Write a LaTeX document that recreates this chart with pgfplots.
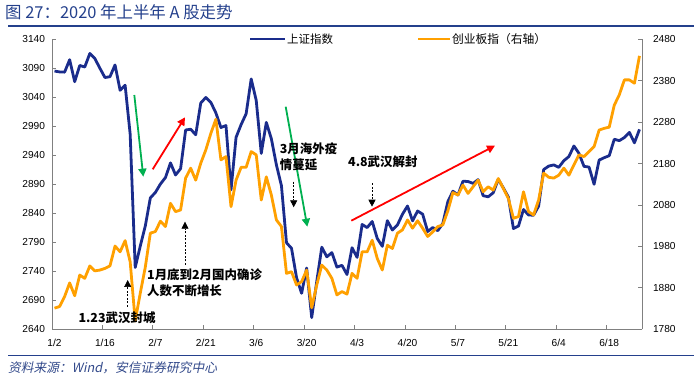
\documentclass[border=0pt]{standalone}
\usepackage{pgfplots}
\usepackage{pgfplotstable}
\pgfplotsset{compat=1.18}
\usepackage{fontspec}
\setmainfont{Liberation Sans}
\newfontfamily\cjk{Noto Sans CJK SC}
\newfontfamily\cjksl[FakeSlant=0.2]{Noto Sans CJK SC}
\usetikzlibrary{arrows.meta}
\definecolor{sse}{RGB}{26,44,140}
\definecolor{cyb}{RGB}{255,160,0}
\definecolor{ttl}{RGB}{36,64,140}
\definecolor{axgray}{RGB}{128,128,128}
\definecolor{grn}{RGB}{0,176,80}

\pgfplotstableread{
i sse cyb
0 3085.20 1831
1 3083.79 1835
2 3083.41 1859
3 3104.80 1892
4 3066.89 1861
5 3094.88 1911
6 3092.29 1903
7 3115.57 1933
8 3106.82 1921
9 3090.04 1923
10 3074.08 1927
11 3075.50 1933
12 3095.79 1981
13 3052.14 1967
14 3060.75 1994
15 2976.53 1943
16 2746.61 1800
17 2783.29 1867
18 2818.09 1930
19 2866.51 2012
20 2875.96 2016
21 2890.49 2041
22 2901.67 2028
23 2926.90 2084
24 2906.07 2064
25 2917.01 2068
26 2983.62 2145
27 2984.97 2169
28 2975.40 2140
29 3030.15 2181
30 3039.67 2213
31 3031.23 2253
32 3013.05 2287
33 2987.93 2189
34 2991.33 2197
35 2880.30 2076
36 2970.93 2140
37 2992.90 2171
38 3011.67 2171
39 3071.68 2209
40 3034.51 2201
41 2943.29 2092
42 2996.76 2148
43 2968.52 2104
44 2923.49 2044
45 2887.43 2028
46 2789.25 1915
47 2779.64 1919
48 2728.76 1887
49 2702.13 1895
50 2745.62 1923
51 2660.17 1832
52 2722.44 1887
53 2781.59 1935
54 2764.91 1923
55 2772.20 1903
56 2747.21 1863
57 2750.30 1871
58 2734.52 1865
59 2780.64 1915
60 2763.99 1903
61 2820.76 1967
62 2815.37 1967
63 2825.90 1995
64 2796.63 1951
65 2783.05 1923
66 2827.28 1983
67 2811.17 1975
68 2819.94 2012
69 2838.49 2020
70 2852.55 2044
71 2827.01 2024
72 2843.98 2042
73 2838.50 2024
74 2808.53 2004
75 2815.49 2015
76 2810.02 2028
77 2822.44 2032
78 2860.08 2066
79 2878.14 2110
80 2871.52 2104
81 2895.34 2128
82 2894.80 2108
83 2891.56 2124
84 2898.05 2140
85 2870.34 2112
86 2868.46 2124
87 2875.42 2116
88 2898.58 2144
89 2883.74 2120
90 2867.92 2096
91 2813.77 2048
92 2817.97 2052
93 2846.55 2112
94 2837.00 2064
95 2836.80 2056
96 2852.35 2092
97 2915.43 2157
98 2921.40 2147
99 2923.37 2145
100 2919.25 2152
101 2930.80 2169
102 2937.77 2152
103 2956.11 2177
104 2943.32 2201
105 2920.89 2197
106 2919.70 2209
107 2890.03 2221
108 2931.75 2261
109 2935.87 2265
110 2939.32 2268
111 2967.63 2321
112 2965.27 2346
113 2970.62 2382
114 2979.55 2382
115 2961.52 2374
116 2984.67 2440
}\data

\pgfplotsset{base/.style={
  at={(52bp,52.7bp)}, anchor=south west, scale only axis,
  width=590bp, height=290bp,
  xmin=-0.5, xmax=116.5,
  axis line style={axgray, line width=0.8bp},
  tick style={axgray, line width=0.8bp},
  major tick length=4bp,
  tick label style={font=\fontsize{10.2}{12}\selectfont, text=black},
  /pgf/number format/assume math mode=true,
  /pgf/number format/1000 sep={},
  clip=false,
}}

\begin{document}
\begin{tikzpicture}[x=1bp,y=1bp]
\path[use as bounding box] (0bp,0bp) rectangle (694bp,382bp);

\begin{axis}[base,
  ymin=2640, ymax=3140, ytick={2640,2690,...,3140},
  axis y line*=left, axis x line*=bottom,
  xtick={-0.5,9.5,...,109.5},
  xticklabels={1/2,1/16,2/7,2/21,3/6,3/20,4/3,4/20,5/7,5/21,6/4,6/18},
  xticklabel style={xshift=2.5bp, yshift=-6bp},
  yticklabel style={xshift=-3.5bp},
]
\addplot[sse, line width=2.8bp, line join=round] table[x=i, y=sse] {\data};
\end{axis}

\begin{axis}[base,
  ymin=1780, ymax=2480, ytick={1780,1880,...,2480},
  axis y line*=right, axis x line=none,
  yticklabel style={xshift=7.5bp},
]
\addplot[cyb, line width=2.8bp, line join=round] table[x=i, y=cyb] {\data};
\end{axis}

% title and rules
\node[anchor=west, text=ttl, inner sep=0] at (5bp,369.5bp) {\cjk\fontsize{16.5}{19}\selectfont 图 27：2020 年上半年 A 股走势};
\draw[ttl, line width=1.3bp] (8bp,356bp) -- (694bp,356bp);
\draw[ttl, line width=1.3bp] (8bp,26.3bp) -- (694bp,26.3bp);
\node[anchor=west, text=ttl!85!gray, inner sep=0] at (8bp,14bp) {\cjksl\fontsize{12.8}{14}\selectfont 资料来源：Wind，安信证券研究中心};

% legend
\draw[sse, line width=2.8bp] (250bp,343bp) -- (285bp,343bp);
\node[anchor=west, inner sep=0] at (287bp,343bp) {\cjk\fontsize{11.5}{13}\selectfont 上证指数};
\draw[cyb, line width=2.8bp] (418bp,343bp) -- (450bp,343bp);
\node[anchor=west, inner sep=0] at (452bp,343bp) {\cjk\fontsize{11.8}{13}\selectfont 创业板指（右轴）};

% coloured arrows
\draw[grn, line width=1.8bp, -{Triangle[length=8bp,width=8bp]}] (134.3bp,287bp) -- (143.3bp,205.3bp);
\draw[red, line width=1.8bp, -{Triangle[length=8bp,width=8bp]}] (152.7bp,212.7bp) -- (185bp,264.7bp);
\draw[grn, line width=1.8bp, -{Triangle[length=8bp,width=8bp]}] (285.7bp,275.3bp) -- (307.3bp,155.3bp);
\draw[red, line width=1.8bp, -{Triangle[length=8bp,width=8bp]}] (351.3bp,161.3bp) -- (495bp,236.3bp);

% annotations
\tikzset{ann/.style={inner sep=0, font=\cjk\bfseries\fontsize{12.5}{16}\selectfont},
  darr/.style={black, line width=0.7bp, dash pattern=on 2bp off 1.5bp, -{Triangle[length=7bp,width=7bp]}}}
\node[ann, anchor=center] at (117bp,64bp) {1.23武汉封城};
\draw[darr] (127.7bp,75.3bp) -- (127.7bp,102bp);
\node[ann, anchor=north west, align=left] at (147bp,113bp) {1月底到2月国内确诊\\人数不断增长};
\draw[darr] (185bp,117bp) -- (185bp,160.3bp);
\node[ann, anchor=north west, align=left] at (279.7bp,239bp) {3月海外疫\\情蔓延};
\draw[darr] (293.7bp,200.3bp) -- (293.7bp,174.7bp);
\node[ann, anchor=west] at (348bp,220bp) {4.8武汉解封};
\draw[darr] (372bp,198.7bp) -- (372bp,175.3bp);
\end{tikzpicture}
\end{document}
